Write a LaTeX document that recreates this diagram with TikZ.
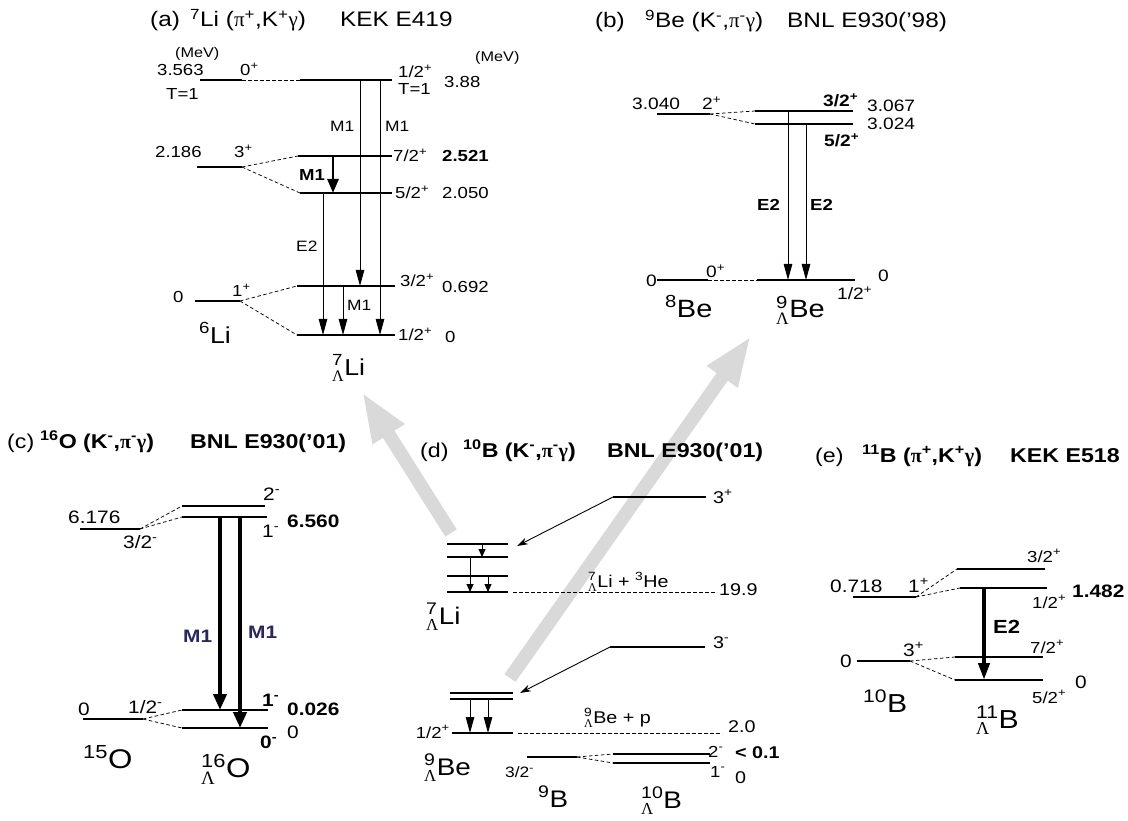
\documentclass[tikz,border=0pt]{standalone}
\usepackage{amsmath}
\usepackage{fontspec}
\setmainfont[FakeStretch=1.16]{Liberation Sans}
\newfontfamily\grk{Liberation Serif}
\usetikzlibrary{arrows.meta}
\definecolor{garrow}{RGB}{217,217,217}
\definecolor{mnavy}{RGB}{40,40,95}
\newcommand{\fsz}[1]{\fontsize{#1}{#1}\selectfont}
\newcommand{\su}[1]{\textsuperscript{#1}}
\newcommand{\hyp}[2]{$\mathsurround=0pt{}^{\text{#1}}_{\text{\grk Λ}}$#2}
\newcommand{\lvlx}[4]{\coordinate (#1l) at (#2,#4); \coordinate (#1r) at (#3,#4); \draw[lvl] (#1l) -- (#1r);}
\newcommand{\varr}[5]{\coordinate (#1s) at (#3,#4); \coordinate (#1e) at (#3,#5); \draw[#2] (#1s) -- (#1e);}
\tikzset{
  lb/.style={inner sep=0pt, anchor=base west},
  lbr/.style={inner sep=0pt, anchor=base east},
  lvl/.style={line width=2.9pt},
  dsh/.style={line width=0.75pt, dash pattern=on 3.5pt off 2.5pt},
  thinarr/.style={line width=1pt, -{Triangle[length=16pt,width=8.5pt]}},
  boldarr/.style={line width=2.8pt, -{Triangle[length=14pt,width=11pt]}},
  fatarr/.style={line width=4.3pt, -{Triangle[length=16pt,width=13pt]}},
  midarr/.style={line width=4pt, -{Triangle[length=17pt,width=11pt]}},
  smallarr/.style={line width=1pt, -{Triangle[length=8pt,width=7pt]}},
  longarr/.style={line width=0.9pt, -{Stealth[length=11pt,width=7pt]}},
  grayarr/.style={garrow, line width=13.5pt, -{Triangle[length=50pt,width=34pt]}},
}
\begin{document}
\begin{tikzpicture}[x=1pt,y=-1pt]
\useasboundingbox (0,0) rectangle (1128,821);

% ---------------- gray arrows (background)
\coordinate (g1s) at (451,533); \coordinate (g1e) at (362,392);
\coordinate (g2s) at (510,678); \coordinate (g2e) at (751,336);
\draw[grayarr] (g1s) -- (g1e);
\draw[grayarr] (g2s) -- (g2e);

% ================= (a)
\node[lb,font=\fsz{21}] (ta1) at (150,27) {(a)};
\node[lb,font=\fsz{21}] (ta2) at (190,27) {\su{7}Li ({\grk π}\su{+},K\su{+}{\grk γ})};
\node[lb,font=\fsz{21}] (ta3) at (340,27) {KEK E419};
\node[lb,font=\fsz{14}] (amev1) at (175,58) {(MeV)};
\node[lb,font=\fsz{14}] (amev2) at (475,62) {(MeV)};

\lvlx{a6T}{200}{242}{80}
\lvlx{a7T}{300}{392}{80}
\lvlx{a63}{197}{242}{167}
\lvlx{a72}{298}{392}{156}
\lvlx{a52}{300}{392}{193}
\lvlx{a32}{297}{395}{286}
\lvlx{a12}{297}{395}{335}
\lvlx{a61}{195}{240}{301}
\draw[dsh] (a6Tr) -- (a7Tl);
\draw[dsh] (a63r) -- (a72l);
\draw[dsh] (a63r) -- (a52l);
\draw[dsh] (a61r) -- (a32l);
\draw[dsh] (a61r) -- (a12l);

\varr{aA1}{thinarr}{360}{80}{286}
\varr{aA2}{thinarr}{380}{80}{335}
\varr{aA3}{boldarr}{333}{156}{193}
\varr{aA4}{thinarr}{323}{193}{335}
\varr{aA5}{thinarr}{343}{286}{335}

\node[lb,font=\fsz{16}] (a3563) at (157,76) {3.563};
\node[lb,font=\fsz{16}] (a0p) at (240,76) {0\su{+}};
\node[lb,font=\fsz{16}] (aT1l) at (166,100) {T=1};
\node[lb,font=\fsz{16}] (a12T) at (398,78) {1/2\su{+}};
\node[lb,font=\fsz{16}] (aT1r) at (398,95) {T=1};
\node[lb,font=\fsz{16}] (a388) at (444,88) {3.88};
\node[lb,font=\fsz{15}] (aM1a) at (330,132) {M1};
\node[lb,font=\fsz{15}] (aM1b) at (385,132) {M1};
\node[lb,font=\fsz{16}] (a2186) at (155,158) {2.186};
\node[lb,font=\fsz{16}] (a3p) at (234,158) {3\su{+}};
\node[lb,font=\fsz{16}] (a72t) at (393,162) {7/2\su{+}};
\node[lb,font=\fsz{16}\bfseries] (a2521) at (442,162) {2.521};
\node[lb,font=\fsz{16}\bfseries] (aM1c) at (299,181) {M1};
\node[lb,font=\fsz{16}] (a52t) at (395,199) {5/2\su{+}};
\node[lb,font=\fsz{16}] (a2050) at (442,199) {2.050};
\node[lb,font=\fsz{15}] (aE2) at (296,252) {E2};
\node[lb,font=\fsz{16}] (a32t) at (400,287) {3/2\su{+}};
\node[lb,font=\fsz{16}] (a0692) at (442,293) {0.692};
\node[lb,font=\fsz{15}] (aM1d) at (347,310) {M1};
\node[lb,font=\fsz{16}] (a0l) at (173,302) {0};
\node[lb,font=\fsz{16}] (a1p) at (232,297) {1\su{+}};
\node[lb,font=\fsz{16}] (a12t) at (398,341) {1/2\su{+}};
\node[lb,font=\fsz{16}] (a0r) at (445,342) {0};
\node[lb,font=\fsz{23}] (a6Li) at (199,343) {\su{6}Li};
\node[lb,font=\fsz{23}] (a7Li) at (332,375) {\hyp{7}{Li}};

% ================= (b)
\node[lbr,font=\fsz{21}] (tb1) at (625,28) {(b)};
\node[lb,font=\fsz{21}] (tb2) at (645,28) {\su{9}Be (K\su{-},{\grk π}\su{-}{\grk γ})};
\node[lb,font=\fsz{21}] (tb3) at (787,28) {BNL E930('98)};

\lvlx{b8a}{657}{710}{114}
\lvlx{b32}{755}{853}{111}
\lvlx{b52}{755}{853}{124}
\lvlx{b8g}{657}{708}{280}
\lvlx{b9g}{757}{855}{280}
\draw[dsh] (b8ar) -- (b32l);
\draw[dsh] (b8ar) -- (b52l);
\draw[dsh] (b8gr) -- (b9gl);
\varr{bA1}{thinarr}{788}{111}{280}
\varr{bA2}{thinarr}{806}{124}{280}

\node[lb,font=\fsz{16.5}] (b3040) at (632,110) {3.040};
\node[lb,font=\fsz{16.5}] (b2p) at (702,110) {2\su{+}};
\node[lb,font=\fsz{16.5}\bfseries] (b32t) at (823,107) {3/2\su{+}};
\node[lb,font=\fsz{16.5}] (b3067) at (867,112) {3.067};
\node[lb,font=\fsz{16.5}] (b3024) at (867,130) {3.024};
\node[lb,font=\fsz{16.5}\bfseries] (b52t) at (824,147) {5/2\su{+}};
\node[lb,font=\fsz{16}\bfseries] (bE2a) at (757,211) {E2};
\node[lb,font=\fsz{16}\bfseries] (bE2b) at (810,211) {E2};
\node[lb,font=\fsz{16.5}] (b0l) at (646,287) {0};
\node[lb,font=\fsz{16.5}] (b0p) at (706,278) {0\su{+}};
\node[lb,font=\fsz{16.5}] (b12t) at (837,300) {1/2\su{+}};
\node[lb,font=\fsz{16.5}] (b0r) at (878,282) {0};
\node[lb,font=\fsz{25}] (b8Be) at (665,317) {\su{8}Be};
\node[lb,font=\fsz{25}] (b9Be) at (776,318) {\hyp{9}{Be}};

% ================= (c)
\node[lb,font=\fsz{20}] (tc1) at (7,448) {(c)};
\node[lb,font=\fsz{20}\bfseries] (tc2) at (40,448) {\su{16}O (K\su{-},{\grk π}\su{-}{\grk γ})};
\node[lb,font=\fsz{20}\bfseries] (tc3) at (190,448) {BNL E930('01)};

\lvlx{c15a}{80}{140}{529}
\lvlx{c2}{182}{265}{506}
\lvlx{c1}{182}{267}{517}
\lvlx{c15g}{83}{143}{719}
\lvlx{c1g}{182}{268}{710}
\lvlx{c0g}{182}{268}{728}
\draw[dsh] (c15ar) -- (c2l);
\draw[dsh] (c15ar) -- (c1l);
\draw[dsh] (c15gr) -- (c1gl);
\draw[dsh] (c15gr) -- (c0gl);
\varr{cA1}{fatarr}{220}{517}{710}
\varr{cA2}{fatarr}{240}{517}{728}

\node[lb,font=\fsz{18}] (c6176) at (68,523) {6.176};
\node[lb,font=\fsz{18}] (c32t) at (123,548) {3/2\su{-}};
\node[lb,font=\fsz{18}] (c2m) at (263,500) {2\su{-}};
\node[lb,font=\fsz{18}] (c1m) at (262,537) {1\su{-}};
\node[lb,font=\fsz{18}\bfseries] (c6560) at (287,527) {6.560};
\node[lb,font=\fsz{18}\bfseries,text=mnavy] (cM1a) at (183,642) {M1};
\node[lb,font=\fsz{18}\bfseries,text=mnavy] (cM1b) at (248,638) {M1};
\node[lb,font=\fsz{18}] (c0l) at (78,715) {0};
\node[lb,font=\fsz{18}] (c12t) at (128,713) {1/2\su{-}};
\node[lb,font=\fsz{18}\bfseries] (c1mb) at (262,706) {1\su{-}};
\node[lb,font=\fsz{18}\bfseries] (c0026) at (287,715) {0.026};
\node[lb,font=\fsz{18}\bfseries] (c0mb) at (260,748) {0\su{-}};
\node[lb,font=\fsz{18}] (c0r) at (287,738) {0};
\node[lb,font=\fsz{27}] (c15O) at (83,768) {\su{15}O};
\node[lb,font=\fsz{27}] (c16O) at (201,777) {\hyp{16}{O}};

% ================= (d)
\node[lb,font=\fsz{20}] (td1) at (420,457) {(d)};
\node[lb,font=\fsz{20}\bfseries] (td2) at (463,457) {\su{10}B (K\su{-},{\grk π}\su{-}{\grk γ})};
\node[lb,font=\fsz{20}\bfseries] (td3) at (607,457) {BNL E930('01)};

\lvlx{d3p}{613}{706}{497}
\lvlx{dL1}{447}{508}{544}
\lvlx{dL2}{447}{508}{557}
\lvlx{dL3}{447}{508}{576}
\lvlx{dL4}{447}{508}{592}
\coordinate (dth1l) at (513,592); \coordinate (dth1r) at (717,592);
\draw[dsh,line width=0.6pt] (dth1l) -- (dth1r);
\lvlx{d3m}{610}{705}{647}
\lvlx{dB1}{450}{513}{693}
\lvlx{dB2}{450}{513}{699}
\lvlx{dBg}{452}{513}{733}
\coordinate (dth2l) at (518,733); \coordinate (dth2r) at (722,733);
\draw[dsh,line width=0.6pt] (dth2l) -- (dth2r);
\lvlx{d9B}{527}{577}{757}
\lvlx{d2m}{613}{710}{754}
\lvlx{d1m}{613}{710}{763}
\draw[dsh] (d9Br) -- (d2ml);
\draw[dsh] (d9Br) -- (d1ml);
\coordinate (dT1) at (517,546);
\coordinate (dT2) at (520,693);
\draw[longarr] (d3pl) -- (dT1);
\draw[longarr] (d3ml) -- (dT2);
\varr{dA1}{smallarr}{482}{544}{557}
\varr{dA2}{smallarr}{470}{557}{592}
\varr{dA3}{smallarr}{488}{576}{592}
\varr{dA4}{thinarr}{470}{699}{733}
\varr{dA5}{thinarr}{488}{699}{733}

\node[lb,font=\fsz{17}] (d3pt) at (713,503) {3\su{+}};
\node[lb,font=\fsz{17}] (dLiHe) at (588,587) {\hyp{7}{Li} + \su{3}He};
\node[lb,font=\fsz{17}] (d199) at (719,595) {19.9};
\node[lb,font=\fsz{24}] (d7Li) at (426,624) {\hyp{7}{Li}};
\node[lb,font=\fsz{17}] (d3mt) at (713,648) {3\su{-}};
\node[lbr,font=\fsz{16}] (d12t) at (450,738) {1/2\su{+}};
\node[lb,font=\fsz{17}] (dBep) at (584,723) {\hyp{9}{Be} + p};
\node[lb,font=\fsz{17}] (d20) at (728,732) {2.0};
\node[lb,font=\fsz{24}] (d9Be) at (424,775) {\hyp{9}{Be}};
\node[lb,font=\fsz{15}] (d32t) at (505,777) {3/2\su{-}};
\node[lb,font=\fsz{16}] (d2mt) at (708,757) {2\su{-}};
\node[lb,font=\fsz{16}] (d1mt) at (710,777) {1\su{-}};
\node[lb,font=\fsz{17}\bfseries] (dlt) at (735,758) {< 0.1};
\node[lb,font=\fsz{17}] (d0) at (735,783) {0};
\node[lb,font=\fsz{24}] (d9Bl) at (538,807) {\su{9}B};
\node[lb,font=\fsz{24}] (d10B) at (641,808) {\hyp{10}{B}};

% ================= (e)
\node[lb,font=\fsz{20}] (te1) at (815,462) {(e)};
\node[lb,font=\fsz{20}\bfseries] (te2) at (862,462) {\su{11}B ({\grk π}\su{+},K\su{+}{\grk γ})};
\node[lb,font=\fsz{20}\bfseries] (te3) at (1010,462) {KEK E518};

\lvlx{e10a}{853}{916}{597}
\lvlx{e32}{957}{1045}{569}
\lvlx{e12}{960}{1047}{588}
\lvlx{e10g}{857}{910}{661}
\lvlx{e72}{955}{1043}{657}
\lvlx{e52}{955}{1043}{680}
\draw[dsh] (e10ar) -- (e32l);
\draw[dsh] (e10ar) -- (e12l);
\draw[dsh] (e10gr) -- (e72l);
\draw[dsh] (e10gr) -- (e52l);
\varr{eA1}{midarr}{984}{588}{680}

\node[lb,font=\fsz{18}] (e0718) at (830,592) {0.718};
\node[lb,font=\fsz{18}] (e1p) at (908,592) {1\su{+}};
\node[lb,font=\fsz{16}] (e32t) at (1027,562) {3/2\su{+}};
\node[lb,font=\fsz{16}] (e12t) at (1032,608) {1/2\su{+}};
\node[lb,font=\fsz{18}\bfseries] (e1482) at (1072,597) {1.482};
\node[lb,font=\fsz{19}\bfseries] (eE2) at (993,633) {E2};
\node[lb,font=\fsz{16}] (e72t) at (1030,653) {7/2\su{+}};
\node[lb,font=\fsz{18}] (e0l) at (840,667) {0};
\node[lb,font=\fsz{18}] (e3p) at (903,656) {3\su{+}};
\node[lb,font=\fsz{16}] (e52t) at (1032,703) {5/2\su{+}};
\node[lb,font=\fsz{18}] (e0r) at (1075,688) {0};
\node[lb,font=\fsz{26}] (e10B) at (863,712) {\su{10}B};
\node[lb,font=\fsz{26}] (e11B) at (976,728) {\hyp{11}{B}};
\end{tikzpicture}
\end{document}
